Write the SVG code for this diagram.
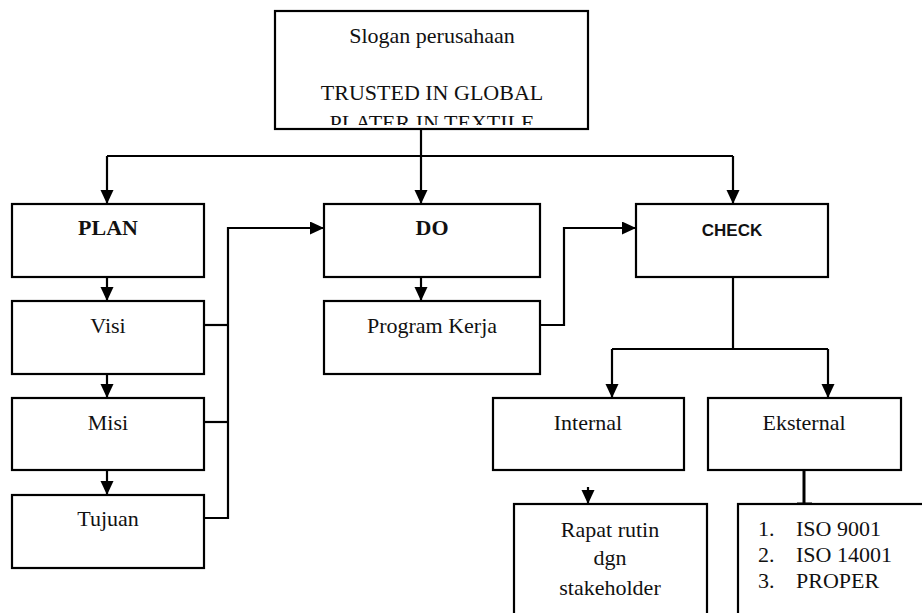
<svg xmlns="http://www.w3.org/2000/svg" width="922" height="613" viewBox="0 0 922 613">
  <style>
    .box { fill: #fff; stroke: #000; stroke-width: 2.2; }
    .t { font-family: "Liberation Serif", "Times New Roman", serif; font-size: 22px; fill: #111; text-anchor: middle; }
    .tl { font-family: "Liberation Serif", "Times New Roman", serif; font-size: 22px; fill: #111; }
    .b { font-weight: bold; }
    .s { font-family: "Liberation Sans", Arial, sans-serif; font-size: 17px; font-weight: bold; fill: #111; text-anchor: middle; }
    .c { fill: none; stroke: #000; stroke-width: 2.2; }
  </style>
  <defs>
    <marker id="arr" markerUnits="userSpaceOnUse" markerWidth="15" markerHeight="14" refX="14" refY="6.5" orient="auto">
      <path d="M0,0 L14,6.5 L0,13 z" fill="#000"/>
    </marker>
    <clipPath id="clipTop">
      <rect x="275" y="11" width="313" height="114"/>
    </clipPath>
  </defs>
  <rect width="922" height="613" fill="#fff"/>

  <g id="connectors">
    <path class="c" d="M421,130 V204" marker-end="url(#arr)"/>
    <path class="c" d="M107,156 H733"/>
    <path class="c" d="M107,156 V204" marker-end="url(#arr)"/>
    <path class="c" d="M733,156 V204" marker-end="url(#arr)"/>
    <path class="c" d="M107,277 V301" marker-end="url(#arr)"/>
    <path class="c" d="M107,374 V398" marker-end="url(#arr)"/>
    <path class="c" d="M107,470 V495" marker-end="url(#arr)"/>
    <path class="c" d="M204,325 H228"/>
    <path class="c" d="M204,422 H228"/>
    <path class="c" d="M204,518 H228 V228 H324" marker-end="url(#arr)"/>
    <path class="c" d="M421,277 V301" marker-end="url(#arr)"/>
    <path class="c" d="M540,325 H564 V228 H636" marker-end="url(#arr)"/>
    <path class="c" d="M733,277 V349"/>
    <path class="c" d="M612,349 H828"/>
    <path class="c" d="M612,349 V398" marker-end="url(#arr)"/>
    <path class="c" d="M828,349 V398" marker-end="url(#arr)"/>
    <path class="c" d="M588,487 V504" marker-end="url(#arr)"/>
    <path class="c" d="M804,470 V504" style="stroke-width:3"/>
    <path class="c" d="M797,504 H812" style="stroke-width:3"/>
  </g>

  <g id="slogan">
    <rect class="box" x="275" y="11" width="313" height="118"/>
    <text class="t" x="432" y="43">Slogan perusahaan</text>
    <text class="t" x="432" y="100">TRUSTED IN GLOBAL</text>
    <text class="t" x="432" y="130" clip-path="url(#clipTop)">PLATER IN TEXTILE</text>
  </g>

  <g id="plan">
    <rect class="box" x="12" y="204" width="192" height="73"/>
    <text class="t b" x="108" y="235">PLAN</text>
  </g>
  <g id="visi">
    <rect class="box" x="12" y="301" width="192" height="73"/>
    <text class="t" x="108" y="333">Visi</text>
  </g>
  <g id="misi">
    <rect class="box" x="12" y="398" width="192" height="72"/>
    <text class="t" x="108" y="430">Misi</text>
  </g>
  <g id="tujuan">
    <rect class="box" x="12" y="495" width="192" height="73"/>
    <text class="t" x="108" y="526">Tujuan</text>
  </g>

  <g id="do">
    <rect class="box" x="324" y="204" width="216" height="73"/>
    <text class="t b" x="432" y="235">DO</text>
  </g>
  <g id="program-kerja">
    <rect class="box" x="324" y="301" width="216" height="73"/>
    <text class="t" x="432" y="333">Program Kerja</text>
  </g>

  <g id="check">
    <rect class="box" x="636" y="204" width="192" height="73"/>
    <text class="s" x="732" y="236">CHECK</text>
  </g>
  <g id="internal">
    <rect class="box" x="493" y="398" width="191" height="72"/>
    <text class="t" x="588" y="430">Internal</text>
  </g>
  <g id="eksternal">
    <rect class="box" x="708" y="398" width="193" height="72"/>
    <text class="t" x="804" y="430">Eksternal</text>
  </g>

  <g id="rapat">
    <rect class="box" x="514" y="504" width="193" height="140"/>
    <text class="t" x="610" y="537">Rapat rutin</text>
    <text class="t" x="610" y="565">dgn</text>
    <text class="t" x="610" y="595">stakeholder</text>
  </g>

  <g id="standar">
    <rect class="box" x="738" y="504" width="220" height="140"/>
    <text class="tl" x="758" y="536">1.</text>
    <text class="tl" x="796" y="536">ISO 9001</text>
    <text class="tl" x="758" y="562">2.</text>
    <text class="tl" x="796" y="562">ISO 14001</text>
    <text class="tl" x="758" y="588">3.</text>
    <text class="tl" x="796" y="588">PROPER</text>
  </g>
</svg>
